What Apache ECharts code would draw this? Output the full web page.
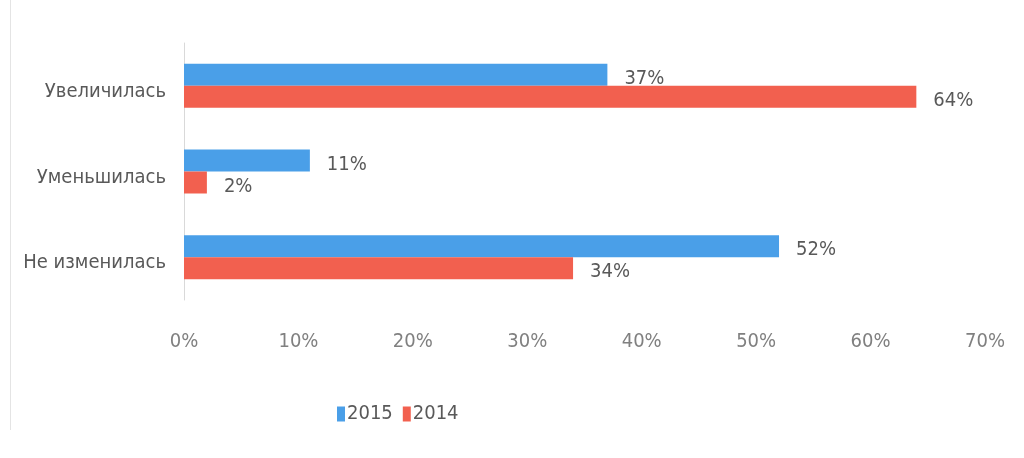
<!DOCTYPE html>
<html>
<head>
<meta charset="utf-8">
<script src="https://cdn.jsdelivr.net/npm/echarts@6/dist/echarts.min.js"></script>
<style>
  html, body { margin: 0; padding: 0; background: #fff; }
  #chart { width: 1024px; height: 458px; }
</style>
</head>
<body>
<div id="chart"></div>
<script>
// категории сверху вниз
var categories = ['Увеличилась', 'Уменьшилась', 'Не изменилась']
var data2015 = [37, 11, 52]
var data2014 = [64, 2, 34]
var xTicks = [0, 10, 20, 30, 40, 50, 60, 70]

var font = '"Liberation Sans Narrow", "DejaVu Sans Condensed", sans-serif'

var chart = echarts.init(document.getElementById('chart'))
chart.setOption({
  animation: false,
  textStyle: { fontFamily: font },
  graphic: [{
    type: 'line',
    shape: { x1: 10.5, y1: 0, x2: 10.5, y2: 430 },
    style: { stroke: '#e4e4e4', lineWidth: 1 }
  }],
  legend: {
    data: ['2015', '2014'],
    left: 332,
    top: 399,
    itemWidth: 8,
    itemHeight: 15,
    itemGap: 10,
    icon: 'rect',
    textStyle: { fontFamily: font, fontSize: 20, color: '#595959', padding: [0, 0, 0, -3] }
  },
  grid: {
    left: 184,
    right: 39,
    top: 43,
    height: 257
  },
  xAxis: {
    type: 'value',
    min: xTicks[0],
    max: xTicks[xTicks.length - 1],
    interval: 10,
    axisLine: { show: false },
    axisTick: { show: false },
    splitLine: { show: false },
    axisLabel: {
      margin: 32,
      fontSize: 20,
      color: '#808080',
      fontFamily: font,
      formatter: '{value}%'
    }
  },
  yAxis: {
    type: 'category',
    inverse: true,
    data: categories,
    axisLine: { lineStyle: { color: '#d9d9d9' } },
    axisTick: { show: false },
    axisLabel: {
      margin: 18,
      formatter: '{a|{value}}',
      rich: {
        a: { fontSize: 20, color: '#595959', fontFamily: font, padding: [12, 0, 0, 0] }
      }
    }
  },
  series: [
    {
      name: '2015',
      type: 'bar',
      data: data2015,
      barWidth: 22,
      barGap: '0%',
      itemStyle: { color: '#4a9fe8' },
      label: {
        show: true,
        position: 'right',
        distance: 17,
        offset: [0, 4],
        fontSize: 20,
        color: '#595959',
        fontFamily: font,
        formatter: '{c}%'
      }
    },
    {
      name: '2014',
      type: 'bar',
      data: data2014,
      barWidth: 22,
      barGap: '0%',
      itemStyle: { color: '#f2604f' },
      label: {
        show: true,
        position: 'right',
        distance: 17,
        offset: [0, 4],
        fontSize: 20,
        color: '#595959',
        fontFamily: font,
        formatter: '{c}%'
      }
    }
  ]
})
</script>
</body>
</html>
